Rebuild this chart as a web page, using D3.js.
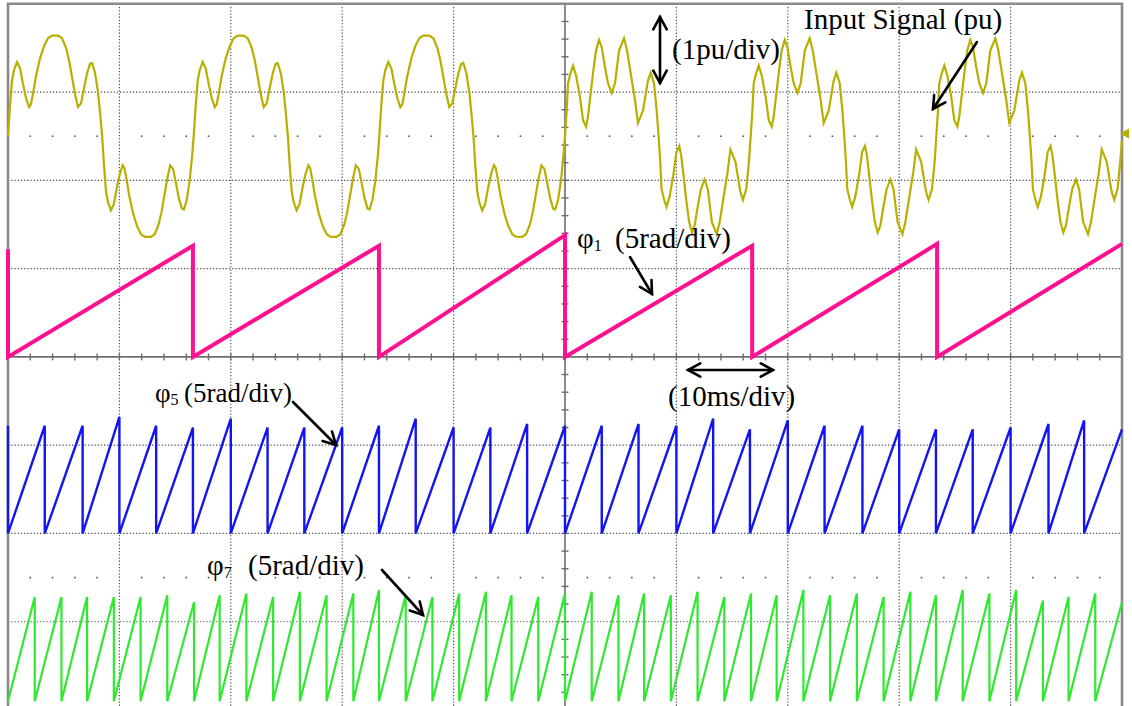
<!DOCTYPE html>
<html>
<head>
<meta charset="utf-8">
<script src="https://cdn.jsdelivr.net/npm/d3@7"></script>
<style>
  body { margin: 0; background: #fff; }
  svg { display: block; }
  text { font-family: "Liberation Serif", "Times New Roman", serif; fill: #000; }
</style>
</head>
<body>
<svg id="scope" width="1132" height="706"></svg>
<script>
// ---------------- Data ----------------
// Time base: 10 ms/div, 10 divisions -> 0..100 ms
// Input signal (pu), [time ms, value]; first capture (0-50 ms)
const inputFirstCapture = [
  [0.00,0.00],[0.18,0.35],[0.36,0.63],[0.54,0.75],[0.81,0.84],[1.08,0.77],[1.35,0.59],[1.62,0.43],[1.89,0.33],[2.06,0.36],[2.24,0.48],[2.51,0.68],[2.87,0.88],[3.23,1.02],[3.59,1.11],[3.95,1.14],[4.49,1.14],[4.85,1.11],[5.21,1.00],[5.48,0.86],[5.75,0.67],[6.01,0.48],[6.28,0.33],[6.55,0.37],[6.82,0.54],[7.09,0.71],[7.36,0.82],[7.54,0.83],[7.81,0.72],[8.08,0.50],[8.30,0.22],
  [8.45,0.00],[8.63,-0.35],[8.80,-0.63],[8.98,-0.75],[9.24,-0.84],[9.50,-0.77],[9.76,-0.59],[10.03,-0.43],[10.29,-0.33],[10.45,-0.36],[10.63,-0.48],[10.89,-0.68],[11.24,-0.88],[11.59,-1.02],[11.94,-1.11],[12.29,-1.14],[12.82,-1.14],[13.17,-1.11],[13.52,-1.00],[13.78,-0.86],[14.04,-0.67],[14.30,-0.48],[14.56,-0.33],[14.82,-0.37],[15.09,-0.54],[15.35,-0.71],[15.61,-0.82],[15.79,-0.83],[16.05,-0.72],[16.31,-0.50],[16.53,-0.22],
  [16.67,0.00],[16.85,0.35],[17.03,0.63],[17.21,0.75],[17.48,0.84],[17.75,0.77],[18.02,0.59],[18.29,0.43],[18.56,0.33],[18.73,0.36],[18.91,0.48],[19.18,0.68],[19.54,0.88],[19.90,1.02],[20.26,1.11],[20.62,1.14],[21.16,1.14],[21.52,1.11],[21.88,1.00],[22.15,0.86],[22.42,0.67],[22.68,0.48],[22.95,0.33],[23.22,0.37],[23.49,0.54],[23.76,0.71],[24.03,0.82],[24.21,0.83],[24.48,0.72],[24.75,0.50],[24.97,0.22],
  [25.12,0.00],[25.30,-0.35],[25.47,-0.63],[25.65,-0.75],[25.91,-0.84],[26.17,-0.77],[26.43,-0.59],[26.70,-0.43],[26.96,-0.33],[27.12,-0.36],[27.30,-0.48],[27.56,-0.68],[27.91,-0.88],[28.26,-1.02],[28.61,-1.11],[28.96,-1.14],[29.49,-1.14],[29.84,-1.11],[30.19,-1.00],[30.45,-0.86],[30.71,-0.67],[30.97,-0.48],[31.23,-0.33],[31.49,-0.37],[31.76,-0.54],[32.02,-0.71],[32.28,-0.82],[32.46,-0.83],[32.72,-0.72],[32.98,-0.50],[33.20,-0.22],
  [33.33,0.00],[33.51,0.35],[33.69,0.63],[33.87,0.75],[34.14,0.84],[34.41,0.77],[34.68,0.59],[34.95,0.43],[35.22,0.33],[35.39,0.36],[35.57,0.48],[35.84,0.68],[36.20,0.88],[36.56,1.02],[36.92,1.11],[37.28,1.14],[37.82,1.14],[38.18,1.11],[38.54,1.00],[38.81,0.86],[39.08,0.67],[39.34,0.48],[39.61,0.33],[39.88,0.37],[40.15,0.54],[40.42,0.71],[40.69,0.82],[40.87,0.83],[41.14,0.72],[41.41,0.50],[41.63,0.22],
  [41.78,0.00],[41.96,-0.35],[42.13,-0.63],[42.31,-0.75],[42.57,-0.84],[42.83,-0.77],[43.09,-0.59],[43.36,-0.43],[43.62,-0.33],[43.78,-0.36],[43.96,-0.48],[44.22,-0.68],[44.57,-0.88],[44.92,-1.02],[45.27,-1.11],[45.62,-1.14],[46.15,-1.14],[46.50,-1.11],[46.85,-1.00],[47.11,-0.86],[47.37,-0.67],[47.63,-0.48],[47.89,-0.33],[48.15,-0.37],[48.42,-0.54],[48.68,-0.71],[48.94,-0.82],[49.12,-0.83],[49.38,-0.72],[49.64,-0.50],[49.86,-0.22]
];
// second capture (50-100 ms)
const inputSecondCapture = [
  [50.00,0.00],[50.15,0.29],[50.27,0.60],[50.51,0.72],[50.72,0.80],[50.99,0.69],[51.35,0.44],[51.62,0.18],[51.89,0.11],[52.06,0.22],[52.31,0.49],[52.51,0.71],[52.78,0.97],[53.05,1.09],[53.29,1.01],[53.59,0.78],[53.86,0.60],[54.19,0.49],[54.49,0.60],[54.85,0.97],[55.30,1.11],[55.57,0.97],[55.90,0.71],[56.28,0.41],[56.55,0.15],[57.00,0.29],[57.45,0.63],[57.69,0.72],[57.99,0.60],[58.23,0.29],
  [58.40,0.00],[58.55,-0.29],[58.67,-0.60],[58.90,-0.72],[59.11,-0.80],[59.38,-0.69],[59.73,-0.44],[60.00,-0.18],[60.26,-0.11],[60.43,-0.22],[60.68,-0.49],[60.87,-0.71],[61.14,-0.97],[61.40,-1.09],[61.64,-1.01],[61.94,-0.78],[62.20,-0.60],[62.53,-0.49],[62.82,-0.60],[63.18,-0.97],[63.62,-1.11],[63.89,-0.97],[64.21,-0.71],[64.59,-0.41],[64.85,-0.15],[65.30,-0.29],[65.74,-0.63],[65.97,-0.72],[66.27,-0.60],[66.51,-0.29],
  [66.67,0.00],[66.82,0.29],[66.94,0.60],[67.18,0.72],[67.39,0.80],[67.66,0.69],[68.02,0.44],[68.29,0.18],[68.56,0.11],[68.73,0.22],[68.98,0.49],[69.18,0.71],[69.45,0.97],[69.72,1.09],[69.96,1.01],[70.26,0.78],[70.53,0.60],[70.86,0.49],[71.16,0.60],[71.52,0.97],[71.97,1.11],[72.24,0.97],[72.57,0.71],[72.95,0.41],[73.22,0.15],[73.67,0.29],[74.12,0.63],[74.36,0.72],[74.66,0.60],[74.90,0.29],
  [75.07,0.00],[75.22,-0.29],[75.34,-0.60],[75.57,-0.72],[75.78,-0.80],[76.05,-0.69],[76.40,-0.44],[76.67,-0.18],[76.93,-0.11],[77.10,-0.22],[77.35,-0.49],[77.54,-0.71],[77.81,-0.97],[78.07,-1.09],[78.31,-1.01],[78.61,-0.78],[78.87,-0.60],[79.20,-0.49],[79.49,-0.60],[79.85,-0.97],[80.29,-1.11],[80.56,-0.97],[80.88,-0.71],[81.26,-0.41],[81.52,-0.15],[81.97,-0.29],[82.41,-0.63],[82.64,-0.72],[82.94,-0.60],[83.18,-0.29],
  [83.33,0.00],[83.48,0.29],[83.60,0.60],[83.84,0.72],[84.05,0.80],[84.32,0.69],[84.68,0.44],[84.95,0.18],[85.22,0.11],[85.39,0.22],[85.64,0.49],[85.84,0.71],[86.11,0.97],[86.38,1.09],[86.62,1.01],[86.92,0.78],[87.19,0.60],[87.52,0.49],[87.82,0.60],[88.18,0.97],[88.63,1.11],[88.90,0.97],[89.23,0.71],[89.61,0.41],[89.88,0.15],[90.33,0.29],[90.78,0.63],[91.02,0.72],[91.32,0.60],[91.56,0.29],
  [91.73,0.00],[91.88,-0.29],[92.00,-0.60],[92.23,-0.72],[92.44,-0.80],[92.71,-0.69],[93.06,-0.44],[93.33,-0.18],[93.59,-0.11],[93.76,-0.22],[94.01,-0.49],[94.20,-0.71],[94.47,-0.97],[94.73,-1.09],[94.97,-1.01],[95.27,-0.78],[95.53,-0.60],[95.86,-0.49],[96.15,-0.60],[96.51,-0.97],[96.95,-1.11],[97.22,-0.97],[97.54,-0.71],[97.92,-0.41],[98.18,-0.15],[98.63,-0.29],[99.07,-0.63],[99.30,-0.72],[99.60,-0.60],[99.84,-0.29],[100.00,-0.05]
];

// Phase angles (rad): wrap instants (ms) and the value reached just before each wrap
const phi1Wraps = [0, 16.6, 33.3, 50.0, 66.8, 83.4, 100];
const phi1Peaks = [6.1, 6.3, 6.3, 6.9, 6.3, 6.4, 6.4];

const phi5Wraps = [0, 3.3, 6.7, 10.0, 13.3, 16.6, 20.0, 23.3, 26.6, 30.0, 33.3, 36.6, 40.0, 43.3, 46.6, 50.0,
                   53.3, 56.6, 60.0, 63.3, 66.6, 70.0, 73.3, 76.7, 80.0, 83.3, 86.6, 90.0, 93.4, 96.6, 100];
const phi5Peaks = [6.1, 6.1, 6.1, 6.6, 6.1, 6.0, 6.5, 6.0, 6.0, 6.0, 6.1, 6.5, 6.0, 6.0, 6.2, 6.1,
                   6.1, 6.2, 6.1, 6.5, 5.9, 6.4, 6.1, 6.1, 5.9, 5.9, 5.9, 6.0, 6.2, 6.4, 5.9];

const phi7Wraps = [0, 2.4, 4.8, 7.1, 9.5, 11.9, 14.3, 16.7, 19.0, 21.4, 23.8, 26.2, 28.6, 31.0, 33.3, 35.7,
                   38.1, 40.5, 42.9, 45.2, 47.6, 50.0, 52.4, 54.8, 57.1, 59.5, 61.9, 64.3, 66.7, 69.0, 71.4,
                   73.8, 76.2, 78.6, 81.0, 83.3, 85.7, 88.1, 90.5, 92.9, 95.2, 97.6, 100];
const phi7Peaks = [0, 5.9, 5.9, 5.9, 5.9, 5.9, 6.0, 5.6, 6.0, 6.1, 5.9, 6.2, 6.0, 6.1, 6.3, 6.0,
                   5.9, 6.1, 6.2, 6.0, 5.9, 6.1, 6.2, 6.0, 6.1, 6.0, 6.2, 5.9, 6.1, 6.0, 6.3,
                   6.0, 6.1, 5.9, 6.2, 6.0, 6.3, 6.1, 6.3, 5.7, 5.9, 6.1, 5.6];

// ---------------- Scope screen ----------------
const svg = d3.select("#scope");
const x = d3.scaleLinear().domain([0, 100]).range([8, 1122]);        // ms
const yDiv = d3.scaleLinear().domain([-4, 4]).range([710, 3.8]);     // vertical divisions

// channel: position (div from centre) and units per division
const channel = (pos, perDiv) => v => yDiv(pos + v / perDiv);
const yInput = channel(2.5, 1);    // 1 pu/div
const yPhi1  = channel(0, 5);      // 5 rad/div
const yPhi5  = channel(-2, 5);
const yPhi7  = channel(-3.9, 5);

const grid = svg.append("g");
const gridColor = "#555";

// dotted graticule
d3.range(1, 10).filter(i => i !== 5).forEach(i => {
  grid.append("line")
    .attr("x1", x(i * 10)).attr("x2", x(i * 10))
    .attr("y1", yDiv(4)).attr("y2", yDiv(-4))
    .attr("stroke", gridColor).attr("stroke-width", 1.2)
    .attr("stroke-dasharray", "1.3,1.9");
});
d3.range(-3, 4).filter(i => i !== 0).forEach(i => {
  grid.append("line")
    .attr("x1", x(0)).attr("x2", x(100))
    .attr("y1", yDiv(i)).attr("y2", yDiv(i))
    .attr("stroke", gridColor).attr("stroke-width", 1.2)
    .attr("stroke-dasharray", "1.3,1.9");
});

// half-division dot rows
[2.5, -2.5].forEach(d => {
  d3.range(2, 100, 2).filter(t => t % 10 !== 0).forEach(t => {
    grid.append("rect")
      .attr("x", x(t) - 0.8).attr("y", yDiv(d) - 0.8)
      .attr("width", 1.6).attr("height", 1.6)
      .attr("fill", gridColor);
  });
});

// centre crosshair with minor ticks
grid.append("line").attr("x1", x(0)).attr("x2", x(100)).attr("y1", yDiv(0)).attr("y2", yDiv(0))
  .attr("stroke", "#6e6e6e").attr("stroke-width", 1.6);
grid.append("line").attr("x1", x(50)).attr("x2", x(50)).attr("y1", yDiv(4)).attr("y2", yDiv(-4))
  .attr("stroke", "#6e6e6e").attr("stroke-width", 1.6);
d3.range(2, 100, 2).forEach(t => {
  grid.append("line").attr("x1", x(t)).attr("x2", x(t))
    .attr("y1", yDiv(0) - 3.5).attr("y2", yDiv(0) + 3.5)
    .attr("stroke", "#6e6e6e").attr("stroke-width", 1.4);
});
d3.range(-3.8, 4, 0.2).forEach(d => {
  grid.append("line").attr("x1", x(50) - 3.5).attr("x2", x(50) + 3.5)
    .attr("y1", yDiv(d)).attr("y2", yDiv(d))
    .attr("stroke", "#6e6e6e").attr("stroke-width", 1.4);
});

// screen border
grid.append("path")
  .attr("d", `M${x(0)},${yDiv(-4)} V${yDiv(4)} H${x(100)} V${yDiv(-4)}`)
  .attr("fill", "none").attr("stroke", "#8a8a8a").attr("stroke-width", 2.6);

// ---------------- Traces ----------------
const traces = svg.append("g").attr("stroke-linejoin", "miter").attr("fill", "none");

function sawtoothPoints(wraps, peaks) {
  const pts = [];
  wraps.forEach((t, i) => {
    pts.push([t, peaks[i]]);
    if (i < wraps.length - 1) pts.push([t, 0]);
  });
  return pts;
}

const line = yFn => d3.line().x(d => x(d[0])).y(d => yFn(d[1]));

traces.append("path").datum(inputFirstCapture.concat(inputSecondCapture))
  .attr("d", line(yInput)).attr("stroke", "#b8b000").attr("stroke-width", 2.2);

traces.append("path").datum(sawtoothPoints(phi1Wraps, phi1Peaks))
  .attr("d", line(yPhi1)).attr("stroke", "#ff1090").attr("stroke-width", 4);

traces.append("path").datum(sawtoothPoints(phi5Wraps, phi5Peaks))
  .attr("d", line(yPhi5)).attr("stroke", "#1414f0").attr("stroke-width", 2.4);

traces.append("path").datum(sawtoothPoints(phi7Wraps, phi7Peaks))
  .attr("d", line(yPhi7)).attr("stroke", "#2fe82f").attr("stroke-width", 2.2);

// input channel marker on the right edge
svg.append("path")
  .attr("d", `M${x(100) - 2},${yInput(0.03)} l9,-5 v10 z`)
  .attr("fill", "#b8b000");

// ---------------- Annotations ----------------
const notes = svg.append("g");
const fs = 29;

function arrow(x1, y1, x2, y2, both) {
  const g = notes.append("g").attr("stroke", "#000").attr("stroke-width", 2.6)
    .attr("fill", "none").attr("stroke-linecap", "round");
  g.append("line").attr("x1", x1).attr("y1", y1).attr("x2", x2).attr("y2", y2);
  const head = (tx, ty, fx, fy) => {
    const a = Math.atan2(ty - fy, tx - fx), L = 14, s = 0.5;
    g.append("path").attr("d",
      `M${tx - L * Math.cos(a - s)},${ty - L * Math.sin(a - s)} L${tx},${ty} L${tx - L * Math.cos(a + s)},${ty - L * Math.sin(a + s)}`);
  };
  head(x2, y2, x1, y1);
  if (both) head(x1, y1, x2, y2);
}

function phiLabel(px, py, sub, restX, size) {
  const t = notes.append("text").attr("x", px).attr("y", py).attr("font-size", size);
  t.append("tspan").text("φ");
  t.append("tspan").attr("font-size", 16).attr("dy", 3).text(sub);
  t.append("tspan").attr("x", restX).attr("dy", -3).text("(5rad/div)");
}

notes.append("text").attr("x", 672).attr("y", 59).attr("font-size", fs).text("(1pu/div)");
arrow(660, 83, 660, 17, true);

notes.append("text").attr("x", 804).attr("y", 29).attr("font-size", fs).text("Input Signal (pu)");
arrow(977, 42, 933, 109, false);

phiLabel(577, 248, "1", 615, fs);
arrow(630, 257, 652, 294, false);

notes.append("text").attr("x", 668).attr("y", 406).attr("font-size", fs).text("(10ms/div)");
arrow(688, 370, 773, 370, true);

phiLabel(155, 402, "5", 184, 27);
arrow(293, 402, 336, 445, false);

phiLabel(207, 575, "7", 248, fs);
arrow(382, 570, 423, 615, false);
</script>
</body>
</html>
